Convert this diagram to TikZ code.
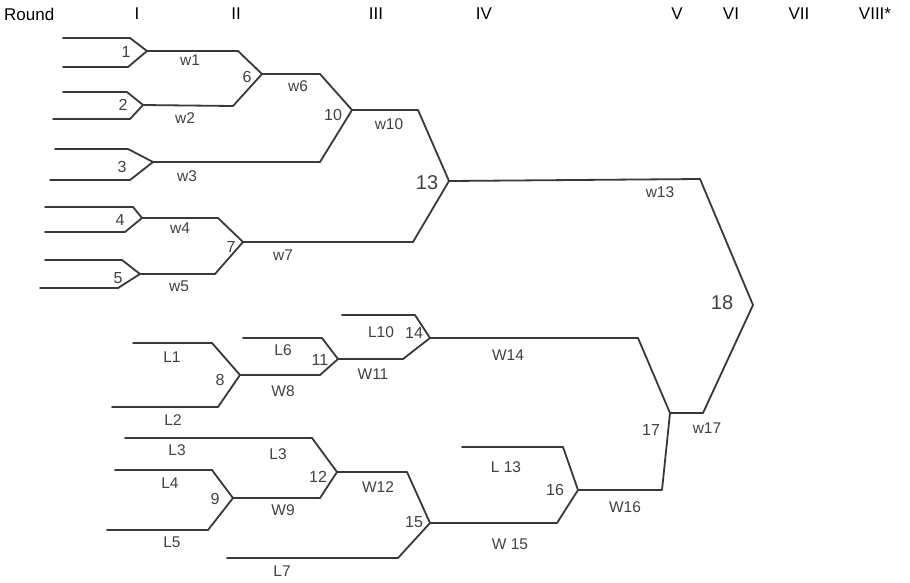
\documentclass[tikz,border=0pt]{standalone}
\usepackage{fontspec}
\setmainfont{Liberation Sans}
\begin{document}
\begin{tikzpicture}[x=1pt,y=-1pt,
  br/.style={draw=black!78,line width=1.8pt,line join=round,line cap=round},
  hdr/.style={font=\fontsize{17}{20}\selectfont,inner sep=0pt},
  lab/.style={font=\fontsize{15.5}{18}\selectfont,text=black!75,inner sep=0pt},
  num/.style={font=\fontsize{16}{18}\selectfont,text=black!75,inner sep=0pt},
  big/.style={font=\fontsize{20}{22}\selectfont,text=black!75,inner sep=0pt}]
\useasboundingbox (0,0) rectangle (910,582);
% header
\node[hdr,anchor=west] (hR) at (4,14) {Round};
\node[hdr] (h1) at (137,14) {I};
\node[hdr] (h2) at (236,14) {II};
\node[hdr] (h3) at (376,14) {III};
\node[hdr] (h4) at (484,14) {IV};
\node[hdr] (h5) at (677,14) {V};
\node[hdr] (h6) at (731,14) {VI};
\node[hdr] (h7) at (799,14) {VII};
\node[hdr] (h8) at (875,14) {VIII*};
% match points
\coordinate (m1) at (147,51);
\coordinate (m2) at (143,105);
\coordinate (m3) at (153,162);
\coordinate (m4) at (142,218);
\coordinate (m5) at (140,274);
\coordinate (m6) at (262,74);
\coordinate (m7) at (243,242);
\coordinate (m10) at (352,110);
\coordinate (m13) at (449,181);
\coordinate (m18) at (753,305);
\coordinate (m8) at (240,375);
\coordinate (m9) at (233,498);
\coordinate (m11) at (338,359);
\coordinate (m12) at (337,472);
\coordinate (m14) at (430,338);
\coordinate (m15) at (430,523);
\coordinate (m16) at (578,490);
\coordinate (m17) at (670,413);
% entry ends
\coordinate (e1a) at (63,38);  \coordinate (e1b) at (63,67);
\coordinate (e2a) at (63,92);  \coordinate (e2b) at (53,119);
\coordinate (e3a) at (55,149); \coordinate (e3b) at (50,180);
\coordinate (e4a) at (45,207); \coordinate (e4b) at (45,232);
\coordinate (e5a) at (45,260); \coordinate (e5b) at (40,288);
\coordinate (eL1) at (133,343); \coordinate (eL2) at (112,407);
\coordinate (eL6) at (243,338); \coordinate (eL10) at (342,315);
\coordinate (eL3) at (125,438); \coordinate (eL4) at (115,470);
\coordinate (eL5) at (107,530); \coordinate (eL7) at (227,558);
\coordinate (eL13) at (462,447);
% round I
\draw[br] (e1a) -- (130,38) -- (m1) -- (128,67) -- (e1b);
\draw[br] (e2a) -- (127,92) -- (m2) -- (130,119) -- (e2b);
\draw[br] (e3a) -- (128,149) -- (m3) -- (130,180) -- (e3b);
\draw[br] (e4a) -- (133,207) -- (m4) -- (125,232) -- (e4b);
\draw[br] (e5a) -- (122,260) -- (m5) -- (118,288) -- (e5b);
% winners bracket
\draw[br] (m1) -- (238,51) -- (m6) -- (233,106) -- (m2);
\draw[br] (m4) -- (218,218) -- (m7) -- (215,274) -- (m5);
\draw[br] (m6) -- (320,74) -- (m10) -- (320,162) -- (m3);
\draw[br] (m10) -- (418,110) -- (m13) -- (413,242) -- (m7);
\draw[br] (m13) -- (700,179) -- (m18) -- (703,413) -- (m17);
% losers bracket
\draw[br] (eL1) -- (212,343) -- (m8) -- (218,407) -- (eL2);
\draw[br] (eL6) -- (322,338) -- (m11) -- (320,375) -- (m8);
\draw[br] (eL10) -- (415,315) -- (m14) -- (403,359) -- (m11);
\draw[br] (eL4) -- (212,470) -- (m9) -- (208,530) -- (eL5);
\draw[br] (eL3) -- (312,438) -- (m12) -- (320,498) -- (m9);
\draw[br] (m12) -- (407,472) -- (m15) -- (398,558) -- (eL7);
\draw[br] (eL13) -- (563,447) -- (m16) -- (557,523) -- (m15);
\draw[br] (m14) -- (638,338) -- (m17) -- (662,490) -- (m16);
% labels round I
\node[num] (n1) at (126,52) {1};
\node[num] (n2) at (123,105) {2};
\node[num] (n3) at (122,167) {3};
\node[num] (n4) at (120,220) {4};
\node[num] (n5) at (118,278) {5};
\node[lab] (lw1) at (190,60) {w1};
\node[lab] (lw2) at (185,118) {w2};
\node[lab] (lw3) at (187,176) {w3};
\node[lab] (lw4) at (180,228) {w4};
\node[lab] (lw5) at (179,286) {w5};
\node[num] (n6) at (247,77) {6};
\node[num] (n7) at (231,247) {7};
\node[lab] (lw6) at (298,86) {w6};
\node[lab] (lw7) at (283,255) {w7};
\node[num] (n10) at (333,115) {10};
\node[lab] (lw10) at (389,124) {w10};
\node[big] (n13) at (427,183) {13};
\node[lab] (lw13) at (660,192) {w13};
\node[big] (n18) at (722,303) {18};
\node[num] (n17) at (651,430) {17};
\node[lab] (lw17) at (707,428) {w17};
% labels losers
\node[lab] (lL1) at (172,357) {L1};
\node[lab] (lL2) at (173,420) {L2};
\node[num] (n8) at (220,380) {8};
\node[lab] (lW8) at (283,391) {W8};
\node[lab] (lL6) at (283,350) {L6};
\node[num] (n11) at (320,360) {11};
\node[lab] (lW11) at (373,374) {W11};
\node[lab] (lL10) at (381,332) {L10};
\node[num] (n14) at (414,333) {14};
\node[lab] (lW14) at (508,355) {W14};
\node[lab] (lL3a) at (177,450) {L3};
\node[lab] (lL3b) at (278,454) {L3};
\node[lab] (lL4) at (170,483) {L4};
\node[lab] (lL5) at (172,542) {L5};
\node[num] (n9) at (215,499) {9};
\node[lab] (lW9) at (283,510) {W9};
\node[num] (n12) at (318,477) {12};
\node[lab] (lW12) at (378,487) {W12};
\node[num] (n15) at (414,522) {15};
\node[lab] (lL7) at (282,571) {L7};
\node[lab] (lW15) at (510,544) {W 15};
\node[lab] (lL13) at (506,467) {L 13};
\node[num] (n16) at (555,490) {16};
\node[lab] (lW16) at (625,507) {W16};
\end{tikzpicture}
\end{document}
